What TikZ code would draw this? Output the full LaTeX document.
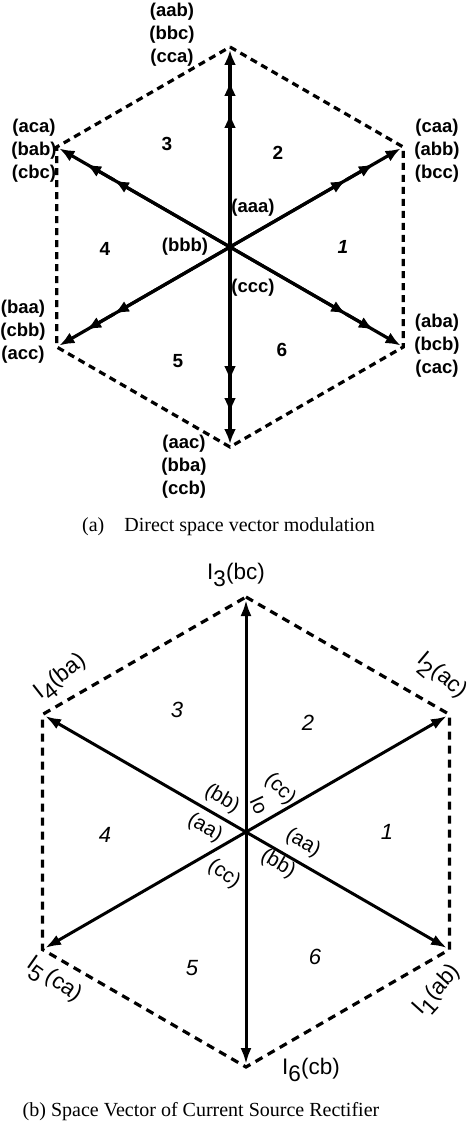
\documentclass[tikz,border=0pt]{standalone}
\usepackage{fontspec}
\setmainfont{Liberation Serif}
\setsansfont{Liberation Sans}
\usetikzlibrary{arrows.meta,calc}
\newcommand\Isb[1]{I\raisebox{-0.35em}{#1}}
\begin{document}
\begin{tikzpicture}[x=1pt,y=-1pt,
  hexedge/.style={line width=3.2pt, dash pattern=on 7pt off 5pt},
  shaft/.style={line width=3.2pt},
  vecA/.style={line width=3.2pt, -{Latex[length=15pt,width=12pt]}},
  vecB/.style={line width=3pt, -{Latex[length=16pt,width=11pt]}, shorten >=3pt},
  labA/.style={font=\fontsize{18.5}{23}\selectfont\sffamily\bfseries, align=center, inner sep=0pt},
  secA/.style={font=\fontsize{19}{22}\selectfont\sffamily\bfseries, inner sep=0pt},
  labB/.style={font=\fontsize{22.5}{26}\selectfont\sffamily, inner sep=0pt},
  cenB/.style={font=\fontsize{20.5}{24}\selectfont\sffamily, inner sep=0pt},
  secB/.style={font=\fontsize{22}{24}\selectfont\sffamily\itshape, inner sep=0pt},
  capt/.style={font=\fontsize{20}{24}\selectfont\rmfamily, inner sep=0pt}]
\useasboundingbox (0,0) rectangle (474,1123);

% ---------------- (a) ----------------
\coordinate (OA) at (230,247);
\foreach \n/\a in {T/90,UR/30,LR/-30,B/-90,LL/-150,UL/150}{
  \coordinate (A\n) at ($(OA)+({200*cos(\a)},{-200*sin(\a)})$);
  \coordinate (A\n1) at ($(OA)!0.67!(A\n)$);
  \coordinate (A\n2) at ($(OA)!0.83!(A\n)$);
  \coordinate (A\n3) at ($(OA)!0.985!(A\n)$);
}
\draw[hexedge] (AT) -- (AUR) -- (ALR) -- (AB) -- (ALL) -- (AUL) -- cycle;
\foreach \n in {T,UR,LR,B,LL,UL}{
  \draw[shaft] (OA) -- (A\n2);
  \draw[vecA] (OA) -- (A\n1);
  \draw[vecA] (A\n1) -- (A\n2);
  \draw[vecA] (A\n2) -- (A\n3);
}

\node[labA] (lAT)  at (172,35)  {(aab)\\(bbc)\\(cca)};
\node[labA] (lAUL) at (34,151)  {(aca)\\(bab)\\(cbc)};
\node[labA] (lAUR) at (437,151) {(caa)\\(abb)\\(bcc)};
\node[labA] (lALL) at (23,332)  {(baa)\\(cbb)\\(acc)};
\node[labA] (lALR) at (437,346) {(aba)\\(bcb)\\(cac)};
\node[labA] (lAB)  at (184,467) {(aac)\\(bba)\\(ccb)};
\node[labA] (zA1) at (253,208) {(aaa)};
\node[labA] (zA2) at (185,247) {(bbb)};
\node[labA] (zA3) at (253,288) {(ccc)};
\node[secA] (sA3) at (167,144) {3};
\node[secA] (sA2) at (278,153) {2};
\node[secA] (sA4) at (105,249) {4};
\node[secA,font=\fontsize{19}{22}\selectfont\sffamily\bfseries\itshape] (sA1) at (343,247) {1};
\node[secA] (sA5) at (178,361) {5};
\node[secA] (sA6) at (282,350) {6};
\node[capt] (capA) at (228.5,527) {(a)\hspace{0.75em}\ Direct space vector modulation};

% ---------------- (b) ----------------
\coordinate (OB) at (246,832);
\foreach \n/\a in {T/90,UR/30,LR/-30,B/-90,LL/-150,UL/150}
  \coordinate (B\n) at ($(OB)+({235*cos(\a)},{-235*sin(\a)})$);
\draw[hexedge, dash pattern=on 8pt off 6pt] (BT) -- (BUR) -- (BLR) -- (BB) -- (BLL) -- (BUL) -- cycle;
\foreach \n in {T,UR,LR,B,LL,UL}
  \draw[vecB] (OB) -- (B\n);

\node[labB] (lBT)  at (236,575) {\Isb{3}(bc)};
\node[labB,rotate=38]  (lBUL) at (61,678)  {\Isb{4}(ba)};
\node[labB,rotate=-40] (lBUR) at (441,677) {\Isb{2}(ac)};
\node[labB,rotate=-35] (lBLL) at (53,981)  {\Isb{5}\,(ca)};
\node[labB,rotate=48]  (lBLR) at (438,991) {\Isb{1}(ab)};
\node[labB] (lBB)  at (311,1070) {\Isb{6}(cb)};

\node[cenB,rotate=-30] (cB1) at (222,799) {(bb)};
\node[cenB,rotate=-65] (cB2) at (259,805) {Io};
\node[cenB,rotate=-45] (cB3) at (280,789) {(cc)};
\node[cenB,rotate=-30] (cB4) at (205,828) {(aa)};
\node[cenB,rotate=-30] (cB5) at (303,843) {(aa)};
\node[cenB,rotate=-30] (cB6) at (278,864) {(bb)};
\node[cenB,rotate=-35] (cB7) at (224,874) {(cc)};

\node[secB] (sB3) at (177,710) {3};
\node[secB] (sB2) at (308,723) {2};
\node[secB] (sB4) at (105,835) {4};
\node[secB] (sB1) at (387,832) {1};
\node[secB] (sB5) at (192,968) {5};
\node[secB] (sB6) at (315,957) {6};
\node[capt] (capB) at (201,1112) {(b) Space Vector of Current Source Rectifier};
\end{tikzpicture}
\end{document}
